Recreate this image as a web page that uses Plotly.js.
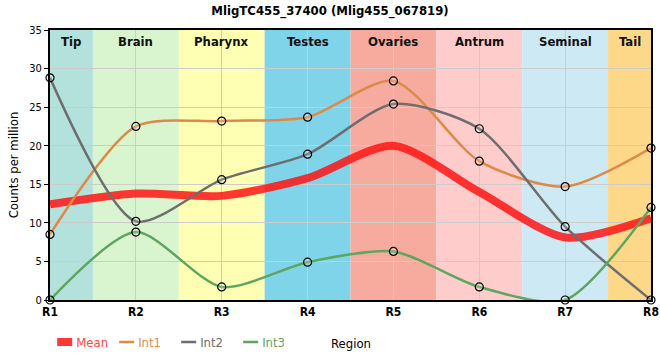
<!DOCTYPE html>
<html><head><meta charset="utf-8">
<script src="https://cdn.plot.ly/plotly-3.0.1.min.js"></script>
<style>body{margin:0;padding:0;background:#fff}#chart{width:660px;height:360px}</style>
</head><body><div id="chart"></div>
<script>
const categories = ["R1","R2","R3","R4","R5","R6","R7","R8"];
const meanValues = [12.4, 13.8, 13.5, 15.8, 20.0, 14.0, 8.1, 10.6];
const int1Values = [8.5, 22.5, 23.2, 23.7, 28.4, 18.0, 14.7, 19.7];
const int2Values = [28.8, 10.2, 15.6, 18.9, 25.4, 22.2, 9.5, 0.0];
const int3Values = [0.0, 8.8, 1.7, 4.9, 6.3, 1.7, 0.0, 12.0];
const regionNames = ["Tip","Brain","Pharynx","Testes","Ovaries","Antrum","Seminal","Tail"];
const regionStart = [0, 0.5, 1.5, 2.5, 3.5, 4.5, 5.5, 6.5];
const regionEnd   = [0.5, 1.5, 2.5, 3.5, 4.5, 5.5, 6.5, 7];
const regionColors = ["#b3e2dd","#d9f5cf","#ffffb3","#80d4ea","#f6ab9e","#ffcccc","#cdeaf4","#fdd888"];

const FONT = "'DejaVu Sans Condensed', 'Liberation Sans Narrow', Arial, sans-serif";
const xs = categories.map((c,i)=>i);

const seriesColors = ['rgba(255,20,20,0.85)', '#dd8a48', '#6e6e6e', '#5ea55e'];
const legendTextColors = ['#ff4545', '#dd8a48', '#6e6e6e', '#5ea55e'];
const seriesNames = ['Mean','Int1','Int2','Int3'];
const seriesWidths = [8, 2.5, 2.5, 2.5];
const seriesData = [meanValues, int1Values, int2Values, int3Values];

const traces = [];
seriesData.forEach((y,i)=>{
  traces.push({
    x: xs, y: y, name: seriesNames[i], type: 'scatter', showlegend: false,
    mode: i === 0 ? 'lines' : 'lines+markers',
    line: {color: seriesColors[i], width: seriesWidths[i], shape: 'spline', smoothing: 0.75},
    marker: {symbol: 'circle', size: 8, color: 'rgba(255,255,255,0.15)', line: {color: '#000', width: 1.2}},
    cliponaxis: false
  });
});
// legend entries (lines only, as in the reference)
seriesData.forEach((y,i)=>{
  traces.push({
    x: [null], y: [null], name: seriesNames[i], type: 'scatter', mode: 'lines', showlegend: true,
    line: {color: seriesColors[i], width: seriesWidths[i]}
  });
});

const shapes = regionNames.map((n,i)=>({
  type:'rect', xref:'x', yref:'paper', x0: regionStart[i], x1: regionEnd[i], y0:0, y1:1,
  fillcolor: regionColors[i], line:{width:0}, layer:'below'
}));
const annotations = regionNames.map((n,i)=>({
  x: (regionStart[i]+regionEnd[i])/2, y: 1, xref:'x', yref:'paper', yanchor:'top', yshift: -2,
  text: '<b>'+n+'</b>', showarrow:false, font:{family:FONT, size:13, color:'#111'}
}));
annotations.push({
  x: 0.5, xref:'paper', y: -0.16, yref:'paper', yanchor:'middle', text: 'Region', showarrow:false,
  font:{family:FONT, size:13, color:'#000'}
});

const layout = {
  width: 660, height: 360,
  margin: {l: 50, r: 9, t: 30, b: 60, autoexpand: false},
  paper_bgcolor: '#fff', plot_bgcolor: '#fff',
  title: {text: '<b>MligTC455_37400 (Mlig455_067819)</b>', x: 0.5, xanchor:'center', y: 0.985, yanchor:'top',
          font: {family: FONT, size: 13, color: '#000'}},
  font: {family: FONT, size: 12, color: '#000'},
  xaxis: {
    range: [0, 7], tickmode:'array', tickvals: xs, ticktext: categories.map(c=>'<b>'+c+'</b>'),
    showgrid: true, gridcolor: '#cccccc', gridwidth: 1,
    showline: true, linecolor: '#000', linewidth: 2, mirror: true,
    ticks: '', tickfont: {family: FONT, size: 12, color: '#000'}, zeroline: false, automargin: false
  },
  yaxis: {
    range: [0, 35], dtick: 5, showgrid: true, gridcolor: '#cccccc', gridwidth: 1,
    showline: true, linecolor: '#000', linewidth: 2, mirror: true,
    ticks: 'outside', ticklen: 4, tickcolor: '#000', tickfont: {family: FONT, size: 11, color: '#000'},
    zeroline: false, automargin: false,
    title: {text: 'Counts per million', font: {family: FONT, size: 13, color:'#000'}, standoff: 8}
  },
  shapes: shapes,
  annotations: annotations,
  showlegend: true,
  legend: {orientation: 'h', x: -0.023, xanchor:'left', y: -0.1, yanchor: 'top', entrywidth: 17,
           font: {family: FONT, size: 13}, itemwidth: 30, bgcolor:'rgba(0,0,0,0)', tracegroupgap: 0}
};

Plotly.newPlot('chart', traces, layout, {staticPlot: true}).then(gd=>{
  document.querySelectorAll('.legendtext').forEach((t,i)=>{ t.style.fill = legendTextColors[i]; });
  document.querySelectorAll('.legend .legendlines path').forEach(p=>{ p.setAttribute('d','M21,0h15'); });
});
</script></body></html>
